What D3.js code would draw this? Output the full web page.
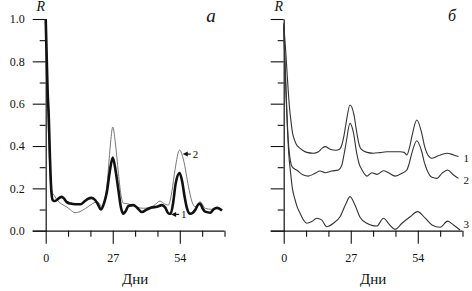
<!DOCTYPE html>
<meta charset="utf-8" />
<script src="https://d3js.org/d3.v7.min.js"></script>
<style>
  body { margin: 0; background: #fff; }
</style>
<div id="chart"></div>
<script>
  // ---- data ----
  // panel "a": curve 1 (thick) and curve 2 (thin)
  var daysA1 = [0,0.4,0.8,1.2,1.7,2.2,2.8,3.5,4.5,5.5,6.4,7.5,8.5,10,12,14,15.8,17,18.5,19.9,21,22.3,23.5,24.6,25.8,27,28.2,29.3,30.3,31.3,32.3,33.3,35.3,36.7,38.7,40.7,42.7,44.8,46.8,48.1,49.4,50.3,51.3,52.3,53.9,55,55.8,56.9,58.2,60.2,61.2,62.2,63.2,64.2,66.3,67.5,69,71];
  var valsA1 = [1.0,0.82,0.65,0.55,0.35,0.2,0.145,0.14,0.145,0.155,0.16,0.15,0.135,0.128,0.125,0.125,0.14,0.15,0.155,0.145,0.125,0.1,0.13,0.18,0.28,0.345,0.28,0.19,0.11,0.08,0.095,0.117,0.121,0.11,0.088,0.1,0.11,0.113,0.121,0.11,0.082,0.08,0.13,0.22,0.272,0.23,0.17,0.106,0.08,0.098,0.12,0.128,0.105,0.09,0.085,0.1,0.108,0.095];
  var daysA2 = [0,0.4,0.8,1.3,1.8,2.4,3.5,5,6.5,8.5,10,11.8,13.8,16,17.9,20,20.8,22.6,23.8,24.8,26,27,28,29.3,30.3,31.3,32.7,34,35.5,37,39.4,41,43.4,46,47.4,49.4,50.8,52.1,53.9,55.5,57.5,58.9,60.2,62.2,64.2,66.9,69,71];
  var valsA2 = [1.0,0.82,0.6,0.4,0.25,0.19,0.165,0.14,0.125,0.112,0.098,0.085,0.09,0.105,0.12,0.135,0.137,0.115,0.15,0.23,0.4,0.49,0.42,0.27,0.17,0.13,0.128,0.124,0.121,0.11,0.106,0.108,0.117,0.14,0.13,0.121,0.184,0.29,0.381,0.334,0.208,0.137,0.113,0.137,0.106,0.101,0.11,0.098];

  // panel "б": curves 1, 2, 3
  var daysB1 = [0,0.8,1.5,2.2,2.9,3.6,4.3,5,6.5,7.6,9.3,11.9,14,15.5,16.7,18.7,21,22.5,23.4,24.3,25.1,26.7,28.3,29.2,30.1,31.2,33.5,36.1,38.8,41.5,44.2,46.9,48.5,49.6,50.6,51.6,53.6,55.6,56.7,57.7,59.7,61.5,63,65.7,68.4,70.4];
  var valsB1 = [0.98,0.85,0.72,0.6,0.52,0.46,0.43,0.41,0.39,0.38,0.37,0.366,0.373,0.39,0.397,0.385,0.38,0.385,0.405,0.45,0.507,0.594,0.547,0.48,0.42,0.385,0.37,0.366,0.369,0.373,0.373,0.373,0.37,0.358,0.39,0.444,0.523,0.46,0.4,0.366,0.342,0.35,0.358,0.366,0.358,0.35];
  var daysB2 = [0,0.5,1,1.5,2,2.7,3.5,5.2,7.9,9.9,12.6,14.6,16.7,19.4,22,23.4,24.3,25.1,26.7,28,29.4,30.4,31.4,33.5,35.5,37.5,40.2,42.2,44.9,47.6,49.6,50.6,51.6,53.6,55.6,56.7,57.7,59.7,61.7,63.7,66,68.4,70.4];
  var valsB2 = [0.97,0.8,0.65,0.5,0.4,0.33,0.3,0.287,0.263,0.258,0.271,0.282,0.274,0.282,0.287,0.31,0.36,0.413,0.507,0.468,0.366,0.315,0.29,0.258,0.274,0.266,0.283,0.274,0.258,0.271,0.287,0.32,0.366,0.425,0.373,0.32,0.287,0.252,0.247,0.271,0.287,0.263,0.247];
  var daysB3 = [0,0.5,1,1.5,2,2.8,3.5,4.6,5.5,6.6,8,9.3,11.3,13.3,15.3,17.3,20,22.7,25.1,26.7,28.7,30.8,33.5,35.5,37.5,40.2,42.5,44.9,47.6,50.9,53.9,57,59.7,63,66,68.4,71];
  var valsB3 = [0.96,0.8,0.62,0.48,0.37,0.271,0.2,0.145,0.11,0.082,0.05,0.035,0.043,0.059,0.051,0.019,0.035,0.066,0.129,0.161,0.121,0.062,0.035,0.025,0.022,0.059,0.03,0.007,0.035,0.066,0.09,0.059,0.027,0.016,0.045,0.027,0.003];

  var yTicks = [0,0.1,0.2,0.3,0.4,0.5,0.6,0.7,0.8,0.9,1.0];
  var yLabels = [0,0.2,0.4,0.6,0.8,1.0];
  var xTicks = [0,9,18,27,36,45,54,63,72];
  var xLabels = [0,27,54];

  var FONT = "'Liberation Serif', 'DejaVu Serif', 'Times New Roman', serif";

  // ---- layout ----
  var W = 472, H = 291;
  var svg = d3.select("#chart").append("svg").attr("width", W).attr("height", H)
    .attr("font-family", FONT);

  var y = d3.scaleLinear().domain([0, 1]).range([230.7, 19]);
  var xA = d3.scaleLinear().domain([0, 72]).range([45.7, 224.5]);
  var xB = d3.scaleLinear().domain([0, 72]).range([283.7, 462.5]);

  function isMajorY(v) { return yLabels.some(function (l) { return Math.abs(l - v) < 1e-6; }); }

  function addText(x, y0, str, size, anchor, italic) {
    return svg.append("text").attr("x", x).attr("y", y0)
      .attr("text-anchor", anchor || "start")
      .attr("font-family", FONT).attr("font-size", size)
      .attr("font-style", italic ? "italic" : "normal")
      .attr("fill", "#111").text(str);
  }

  function drawAxes(x, withLabels) {
    // y axis
    var ya = svg.append("g").attr("transform", "translate(" + x(0) + ",0)")
      .call(d3.axisLeft(y).tickValues(yTicks).tickSizeOuter(0).tickPadding(8)
        .tickFormat(function (d) { return withLabels && isMajorY(d) ? d3.format(".1f")(d) : ""; }));
    ya.attr("font-family", FONT).attr("font-size", 12);
    ya.select(".domain").attr("stroke", "#111").attr("stroke-width", 1.2);
    ya.selectAll(".tick line").attr("stroke", "#111").attr("stroke-width", 1.1)
      .attr("x2", function (d) { return isMajorY(d) ? -13 : -6; });
    ya.selectAll(".tick text").attr("x", -21).attr("fill", "#111");

    // x axis
    var xa = svg.append("g").attr("transform", "translate(0," + y(0) + ")")
      .call(d3.axisBottom(x).tickValues(xTicks).tickSizeOuter(0).tickPadding(10)
        .tickFormat(function (d) { return xLabels.indexOf(d) >= 0 ? d : ""; }));
    xa.attr("font-family", FONT).attr("font-size", 12);
    xa.select(".domain").attr("stroke", "#111").attr("stroke-width", 1.2)
      .attr("d", "M" + (x(0) - 13) + ",0.5H" + x(72));
    xa.selectAll(".tick line").attr("stroke", "#111").attr("stroke-width", 1.1)
      .attr("y2", function (d) { return xLabels.indexOf(d) >= 0 ? 13 : 6; });
    xa.selectAll(".tick text").attr("y", 23).attr("fill", "#111");

    // titles
    addText((x(0) + x(72)) / 2, 284, "Дни", 15, "middle");
    addText(x(0) - 5, 11, "R", 14, "middle", true);
  }

  function curve(x, days, vals, color, width) {
    var pts = days.map(function (d, i) { return [d, vals[i]]; });
    svg.append("path").datum(pts)
      .attr("fill", "none").attr("stroke", color).attr("stroke-width", width)
      .attr("stroke-linejoin", "round")
      .attr("d", d3.line().x(function (d) { return x(d[0]); }).y(function (d) { return y(d[1]); })
        .curve(d3.curveMonotoneX));
  }

  drawAxes(xA, true);
  drawAxes(xB, false);

  // panel a
  curve(xA, daysA2, valsA2, "#777", 1);
  curve(xA, daysA1, valsA1, "#111", 2.6);

  // panel б
  curve(xB, daysB1, valsB1, "#333", 1.1);
  curve(xB, daysB2, valsB2, "#333", 1.1);
  curve(xB, daysB3, valsB3, "#333", 1.1);

  // panel letters
  addText(211, 22, "a", 19, "middle", true);
  addText(452, 21, "б", 16, "middle", true);

  // arrow annotations in panel a
  function arrow(x0, y0, len, label) {
    svg.append("path").attr("fill", "#111")
      .attr("d", "M" + x0 + "," + y0 + "l5,-2.5v5z");
    svg.append("line").attr("x1", x0 + 4).attr("x2", x0 + len).attr("y1", y0).attr("y2", y0)
      .attr("stroke", "#111").attr("stroke-width", 1.2);
    addText(x0 + len + 2, y0 + 4, label, 11);
  }
  arrow(xA(55.2), y(0.362), 8, "2");
  arrow(xA(50.5), y(0.077), 8, "1");

  // curve numbers in panel б
  var endLabels = [["1", 0.343], ["2", 0.24], ["3", 0.03]];
  endLabels.forEach(function (l) {
    addText(xB(72) + 1, y(l[1]) + 4, l[0], 11);
  });
</script>
